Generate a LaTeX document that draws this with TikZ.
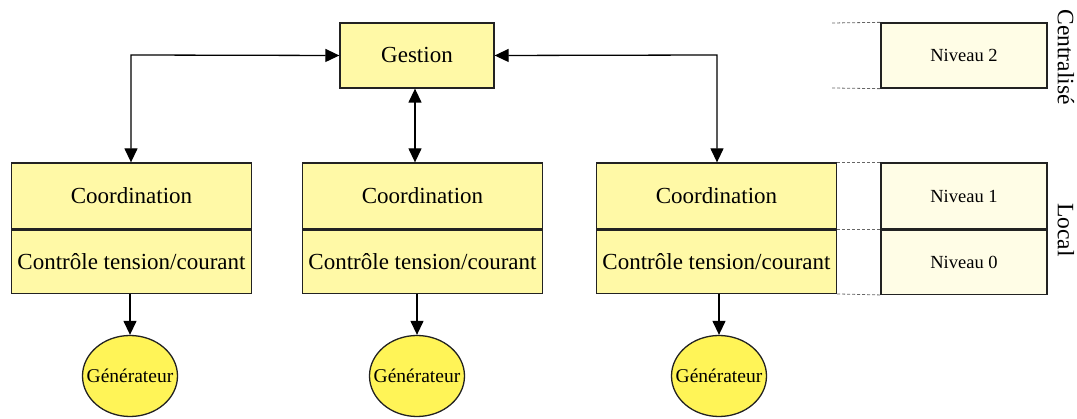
\documentclass[tikz,border=0pt]{standalone}
\usepackage{fontspec}
\setmainfont{Liberation Serif}
\usetikzlibrary{arrows.meta,shapes.geometric}
\definecolor{boxfill}{HTML}{FFF9A6}
\definecolor{lvlfill}{HTML}{FFFDE6}
\definecolor{genfill}{HTML}{FFF457}
\definecolor{edge}{HTML}{222222}
\begin{document}
\begin{tikzpicture}[x=1pt,y=-1pt,
  box/.style={draw=edge,line width=1.3pt,fill=boxfill,inner sep=0pt,minimum width=240pt,font=\fontsize{23}{26}\selectfont},
  lvl/.style={draw=edge,line width=1.3pt,fill=lvlfill,inner sep=0pt,minimum width=166pt,font=\fontsize{18.5}{20}\selectfont},
  gen/.style={draw=edge,line width=1.3pt,fill=genfill,ellipse,inner ysep=0pt,inner xsep=-11pt,minimum width=95pt,minimum height=81pt,font=\fontsize{19.5}{20}\selectfont},
  conn/.style={line width=1.3pt,draw=black},
  tip/.style={-{Triangle[width=13pt,length=14pt]}},
  tips/.style={{Triangle[width=13pt,length=14pt]}-{Triangle[width=13pt,length=14pt]}},
  guide/.style={densely dashed,line width=0.8pt,draw=black!60},
  side/.style={font=\fontsize{23.5}{26}\selectfont,rotate=-90}]
\useasboundingbox (0,0) rectangle (1077,419);
% Gestion
\node[box,minimum width=154pt,minimum height=65pt] (g) at (417,55.5) {Gestion};
% Coordination / control boxes
\node[box,minimum height=66pt] (c1) at (131.5,196) {Coordination};
\node[box,minimum height=63pt,anchor=north] (k1) at (c1.south) {Contrôle tension/courant};
\node[box,minimum height=66pt] (c2) at (422.5,196) {Coordination};
\node[box,minimum height=63pt,anchor=north] (k2) at (c2.south) {Contrôle tension/courant};
\node[box,minimum height=66pt] (c3) at (716.5,196) {Coordination};
\node[box,minimum height=63pt,anchor=north] (k3) at (c3.south) {Contrôle tension/courant};
% Generators
\node[gen] (e1) at (130,376) {Générateur};
\node[gen] (e2) at (417,376) {Générateur};
\node[gen] (e3) at (719,376) {Générateur};
% Levels
\node[lvl,minimum height=65pt] (n2) at (964,55.5) {Niveau 2};
\node[lvl,minimum height=66pt] (n1) at (964,196) {Niveau 1};
\node[lvl,minimum height=64pt,anchor=north] (n0) at (n1.south) {Niveau 0};
% side labels
\node[side] (cen) at (1066,57) {Centralisé};
\node[side] (loc) at (1066,230) {Local};
% connectors
\coordinate (a1) at (131,55);
\coordinate (a3) at (717,55);
\coordinate (mx) at (415,0);
\coordinate (x1) at (130,0);
\coordinate (x2) at (417,0);
\coordinate (x3) at (719,0);
\draw[conn,tips] (g.west) -- (a1) -- (c1.north -| a1);
\draw[conn,tips] (g.east) -- (a3) -- (c3.north -| a3);
\draw[conn,tips] (g.south -| mx) -- (c2.north -| mx);
\draw[conn,tip] (k1.south -| x1) -- (e1.north);
\draw[conn,tip] (k2.south -| x2) -- (e2.north);
\draw[conn,tip] (k3.south -| x3) -- (e3.north);
% guides
\coordinate (d2a) at (832,23);
\coordinate (d2b) at (832,88);
\draw[guide] (d2a) -- (n2.north west);
\draw[guide] (d2b) -- (n2.south west);
\draw[guide] (c3.north east) -- (n1.north west);
\draw[guide] (c3.south east) -- (n1.south west);
\draw[guide] (k3.south east) -- (n0.south west);
\end{tikzpicture}
\end{document}
